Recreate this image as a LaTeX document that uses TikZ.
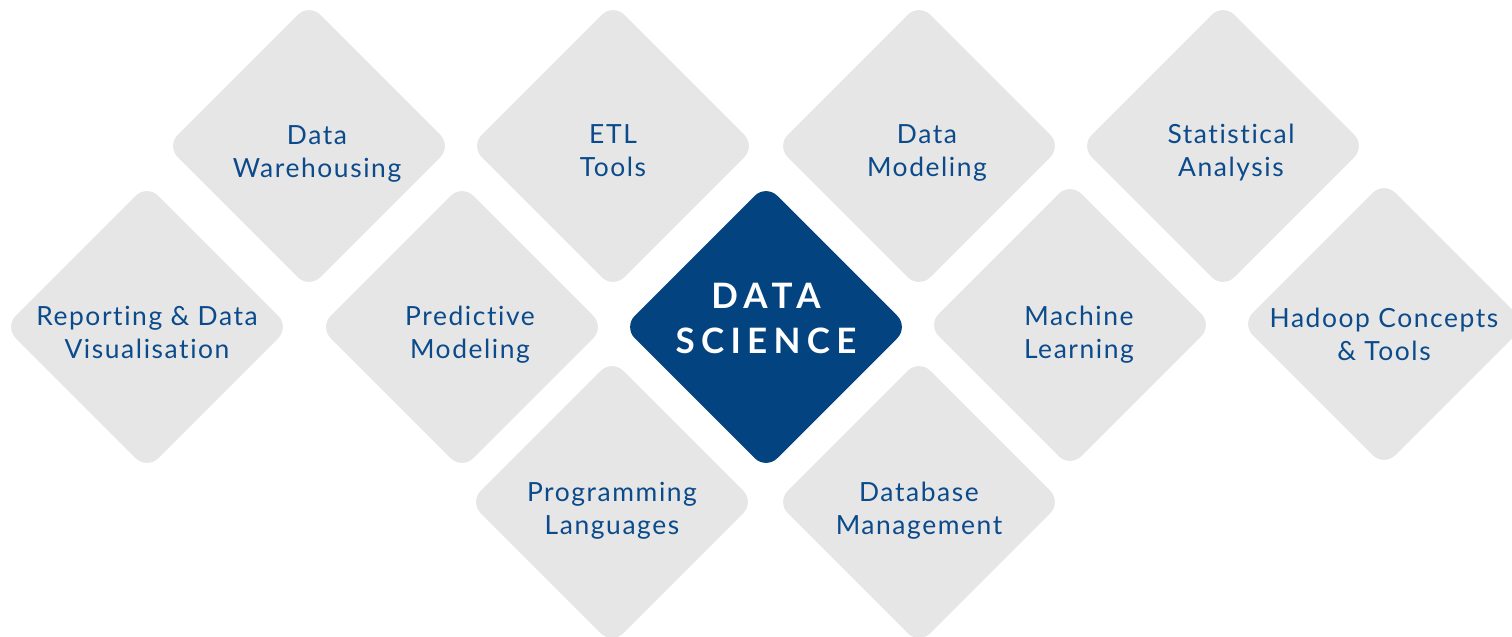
\documentclass[tikz,border=0pt]{standalone}
\usepackage{fontspec}
\setmainfont{Lato}
\newfontfamily\lblfont[LetterSpace=6,Ligatures=NoCommon]{Lato}
\newfontfamily\dsfont[LetterSpace=18,Ligatures=NoCommon]{Lato Bold}
\usetikzlibrary{shapes.geometric}
\definecolor{tilegrey}{HTML}{E6E6E6}
\definecolor{navy}{HTML}{03437F}
\definecolor{ink}{HTML}{0B4A8B}
\begin{document}
\begin{tikzpicture}[x=0.5pt,y=-0.5pt,
  tile/.style={shape=diamond, fill=tilegrey, draw=none, minimum width=142.5pt, minimum height=142.5pt, inner sep=0pt, outer sep=0pt, rounded corners=8pt},
  hub/.style={tile, fill=navy},
  lbl/.style={text=ink, font=\lblfont\fontsize{13.2}{16.5}\selectfont, align=center, inner sep=0pt},
  hublbl/.style={text=white, font=\dsfont\fontsize{17.5}{22.5}\selectfont, align=center, inner sep=0pt}
]
\useasboundingbox (0,0) rectangle (1512,637);
% tiles
\node[tile] (dw)  at (309,146) {};
\node[tile] (etl) at (613,146) {};
\node[tile] (dm)  at (919,146) {};
\node[tile] (sa)  at (1223,146) {};
\node[tile] (rv)  at (147,327) {};
\node[tile] (pm)  at (462,327) {};
\node[hub]  (ds)  at (766,327) {};
\node[tile] (ml)  at (1070,325) {};
\node[tile] (hc)  at (1384,324) {};
\node[tile] (pl)  at (612,502) {};
\node[tile] (db)  at (919,502) {};
% labels
\node[lbl] (tdw)  at (317,154) {Data\\Warehousing};
\node[lbl] (tetl) at (613,151) {ETL\\Tools};
\node[lbl] (tdm)  at (927,153) {Data\\Modeling};
\node[lbl] (tsa)  at (1231,153) {Statistical\\Analysis};
\node[lbl] (trv)  at (147,332) {Reporting \& Data\\Visualisation};
\node[lbl] (tpm)  at (470,335) {Predictive\\Modeling};
\node[hublbl] (tds) at (766,318) {DATA\\SCIENCE};
\node[lbl] (tml)  at (1079,335) {Machine\\Learning};
\node[lbl] (thc)  at (1384,334) {Hadoop Concepts\\\& Tools};
\node[lbl] (tpl)  at (612,511) {Programming\\Languages};
\node[lbl] (tdb)  at (919,511) {Database\\Management};
\end{tikzpicture}
\end{document}
